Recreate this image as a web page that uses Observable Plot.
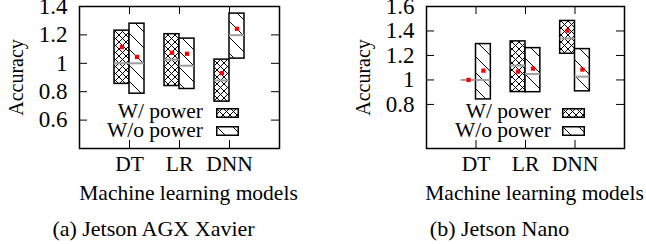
<!DOCTYPE html>
<html>
<head>
<meta charset="utf-8">
<script src="https://cdn.jsdelivr.net/npm/d3@7"></script>
<script src="https://cdn.jsdelivr.net/npm/@observablehq/plot@0.6"></script>
<style>
  body { margin: 0; background: #fff; }
  #root { position: relative; width: 646px; height: 244px; overflow: hidden; font-family: "Liberation Serif", "Times New Roman", "Liberation Sans", sans-serif; color: #000; }
  .panel { position: absolute; top: 0; }
  .caption { position: absolute; width: 320px; text-align: center; font-size: 22px; line-height: 22px; white-space: pre; }
  .legtext { position: absolute; text-align: right; font-size: 21.5px; line-height: 18px; white-space: pre; }
  .swatch { position: absolute; }
</style>
</head>
<body>
<svg width="0" height="0" style="position:absolute">
  <defs>
    <pattern id="hatchCross" patternUnits="userSpaceOnUse" width="7" height="7">
      <rect width="7" height="7" fill="white"></rect>
      <path d="M0,0L7,7M7,0L0,7" stroke="black" stroke-width="1"></path>
    </pattern>
    <pattern id="hatchDiag" patternUnits="userSpaceOnUse" width="16" height="16">
      <rect width="16" height="16" fill="white"></rect>
      <path d="M0,0L16,16M-4,12L4,20M12,-4L20,4" stroke="black" stroke-width="1"></path>
    </pattern>
  </defs>
</svg>
<div id="root"></div>
<script>
// ---- data ----
const models = ["DT", "LR", "DNN"];
const seriesNames = ["W/ power", "W/o power"];
const yTicksXavier = [0.6, 0.8, 1, 1.2, 1.4];
const yTicksNano = [0.8, 1, 1.2, 1.4, 1.6];
const xAxisTitle = "Machine learning models";
const yAxisTitle = "Accuracy";
const captions = ["(a) Jetson AGX Xavier", "(b) Jetson Nano"];

// (a) Jetson AGX Xavier
const xavierWithLow = [0.855, 0.84, 0.73];
const xavierWithHigh = [1.23, 1.205, 1.026];
const xavierWithMedian = [1.0, 1.026, 0.879];
const xavierWithMean = [1.114, 1.074, 0.931];
const xavierWithoutLow = [0.786, 0.819, 1.033];
const xavierWithoutHigh = [1.279, 1.174, 1.35];
const xavierWithoutMedian = [1.0, 0.983, 1.198];
const xavierWithoutMean = [1.045, 1.067, 1.243];

// (b) Jetson Nano
const nanoWithLow = [1.0, 0.901, 1.214];
const nanoWithHigh = [1.0, 1.315, 1.482];
const nanoWithMedian = [1.0, 1.118, 1.339];
const nanoWithMean = [1.0, 1.068, 1.403];
const nanoWithoutLow = [0.841, 0.90, 0.907];
const nanoWithoutHigh = [1.293, 1.26, 1.252];
const nanoWithoutMedian = [1.0, 1.049, 1.027];
const nanoWithoutMean = [1.076, 1.093, 1.085];

const FONT = '"Liberation Serif", "Times New Roman", "Liberation Sans", sans-serif';

// ---- build rows ----
const boxW = 0.3;
function rowsFor(sets) {
  const rows = [];
  models.forEach((m, i) => {
    sets.forEach((s, k) => {
      const pos = i + 1;
      rows.push({
        model: m, series: seriesNames[k], k,
        x1: k === 0 ? pos - boxW : pos,
        x2: k === 0 ? pos : pos + boxW,
        xc: k === 0 ? pos - boxW / 2 : pos + boxW / 2,
        low: s.low[i], high: s.high[i], median: s.median[i], mean: s.mean[i]
      });
    });
  });
  return rows;
}
const xavierRows = rowsFor([
  {low: xavierWithLow, high: xavierWithHigh, median: xavierWithMedian, mean: xavierWithMean},
  {low: xavierWithoutLow, high: xavierWithoutHigh, median: xavierWithoutMedian, mean: xavierWithoutMean}
]);
const nanoRows = rowsFor([
  {low: nanoWithLow, high: nanoWithHigh, median: nanoWithMedian, mean: nanoWithMean},
  {low: nanoWithoutLow, high: nanoWithoutHigh, median: nanoWithoutMedian, mean: nanoWithoutMean}
]);

const W = 323, H = 212, MT = 6, MB = 64;
function panel(rows, yDomain, yTicks, ml, mr) {
  const fw = W - ml - mr, fh = H - MT - MB;
  const xt = models.map((m, i) => i + 1);
  return Plot.plot({
    width: W, height: H, marginLeft: ml, marginRight: mr, marginTop: MT, marginBottom: MB,
    style: {fontFamily: FONT, fontSize: "21.5px", color: "black", background: "white", overflow: "visible"},
    x: {domain: [0, models.length + 1]},
    y: {domain: yDomain},
    marks: [
      Plot.rect(rows.filter(d => d.k === 0), {x1: "x1", x2: "x2", y1: "low", y2: "high", fill: "url(#hatchCross)", stroke: "black", strokeWidth: 1.5}),
      Plot.rect(rows.filter(d => d.k === 1), {x1: "x1", x2: "x2", y1: "low", y2: "high", fill: "url(#hatchDiag)", stroke: "black", strokeWidth: 1.5}),
      Plot.ruleY(rows, {x1: "x1", x2: "x2", y: "median", stroke: "#a0a0a0", strokeWidth: 2}),
      Plot.dot(rows, {x: "xc", y: "mean", symbol: "square", r: 2.4, fill: "red", stroke: "none"}),
      Plot.tickY(yTicks, {y: d => d, insetRight: fw - 8, stroke: "black"}),
      Plot.tickY(yTicks, {y: d => d, insetLeft: fw - 8, stroke: "black"}),
      Plot.tickX(xt, {x: d => d, insetBottom: fh - 8, stroke: "black"}),
      Plot.tickX(xt, {x: d => d, insetTop: fh - 8, stroke: "black"}),
      Plot.frame({stroke: "black", strokeWidth: 1.5}),
      Plot.axisX(xt, {tickSize: 0, tickPadding: 7, tickFormat: d => models[d - 1], label: null}),
      Plot.axisY(yTicks, {tickSize: 0, tickPadding: 12, tickFormat: d => String(d), label: null, fontSize: 23}),
      Plot.text([yAxisTitle], {frameAnchor: "left", textAnchor: "middle", lineAnchor: "middle", rotate: -90, dx: -63, fontSize: 20}),
      Plot.text([xAxisTitle], {frameAnchor: "bottom", textAnchor: "middle", lineAnchor: "middle", dy: 45, dx: 9})
    ]
  });
}

const root = document.getElementById("root");
function place(el, left) { el.classList.add("panel"); el.style.left = left + "px"; root.appendChild(el); }
place(panel(xavierRows, [0.4, 1.4], yTicksXavier, 79, 44), 0);
place(panel(nanoRows, [0.44, 1.6], yTicksNano, 103, 22), 323);

// legends (inside the frames)
function legend(textRight, swLeft) {
  const rowsY = [{base: 118.5, sw: 108}, {base: 137, sw: 126}];
  seriesNames.forEach((name, k) => {
    const t = document.createElement("div");
    t.className = "legtext";
    t.textContent = name;
    t.style.left = (textRight - 200) + "px";
    t.style.width = "200px";
    t.style.top = (rowsY[k].base - 16.5) + "px";
    root.appendChild(t);
    const ns = "http://www.w3.org/2000/svg";
    const s = document.createElementNS(ns, "svg");
    s.setAttribute("class", "swatch");
    s.setAttribute("width", 23); s.setAttribute("height", 10);
    s.style.left = swLeft + "px"; s.style.top = rowsY[k].sw + "px";
    const r = document.createElementNS(ns, "rect");
    r.setAttribute("x", 0.75); r.setAttribute("y", 0.75);
    r.setAttribute("width", 21.5); r.setAttribute("height", 8.5);
    r.setAttribute("fill", k === 0 ? "url(#hatchCross)" : "url(#hatchDiag)");
    r.setAttribute("stroke", "black"); r.setAttribute("stroke-width", 1.5);
    s.appendChild(r);
    root.appendChild(s);
  });
}
legend(203, 216);
legend(551, 562);

// captions
[[153.5, captions[0]], [499.5, captions[1]]].forEach(([cx, txt]) => {
  const c = document.createElement("div");
  c.className = "caption";
  c.textContent = txt;
  c.style.left = (cx - 160) + "px";
  c.style.top = "218px";
  root.appendChild(c);
});
</script>
</body>
</html>
